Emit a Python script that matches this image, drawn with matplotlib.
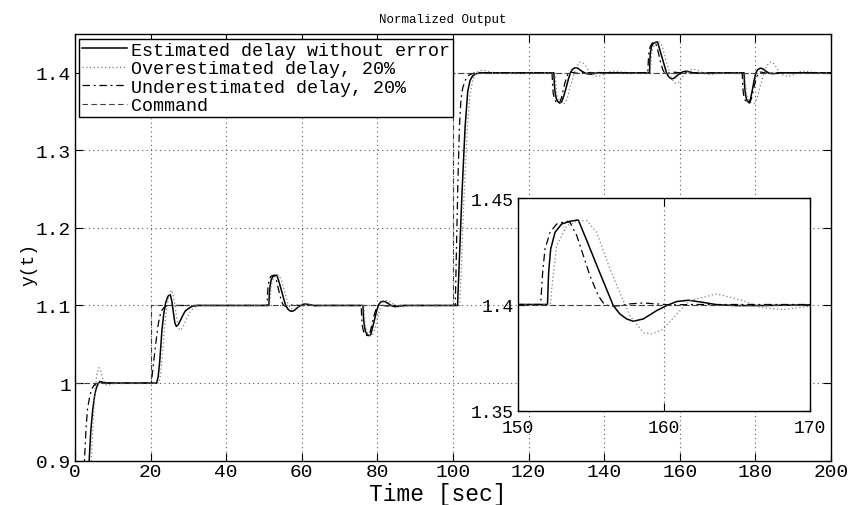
import matplotlib
matplotlib.use('Agg')
import matplotlib.pyplot as plt

plt.rcParams['font.family'] = ['Liberation Mono', 'DejaVu Sans Mono']

# ---------------- data ----------------
t_est = [0, 1.5, 2.5, 3.1, 3.5, 3.8, 4.2, 4.7, 5.2, 5.6, 6.1, 6.6, 7.3, 8.5, 21.6,
         22.0, 22.4, 23.0, 23.5, 24.0, 24.6, 25.2, 25.6, 26.0, 26.4, 26.8, 27.3, 27.9, 28.6, 29.2, 30.0, 31.0, 32.5, 51.3,
         51.4, 51.6, 51.9, 52.3, 52.9, 53.4, 54.0, 54.7, 55.3, 55.8, 56.3, 56.8, 57.3, 58.0, 58.8, 59.5, 60.2, 61.0, 62.0, 63.3, 65.0, 76.2,
         76.3, 76.5, 76.8, 77.2, 77.8, 78.2, 78.7, 79.3, 79.9, 80.4, 80.9, 81.5, 82.2, 83.0, 83.8, 84.6, 85.6, 87.0, 101.2,
         101.6, 102.4, 103.2, 103.9, 104.5, 105.2, 106.2, 107.5, 126.7,
         126.8, 127.0, 127.3, 127.7, 128.2, 128.7, 129.3, 130.0, 130.6, 131.1, 131.6, 132.3, 133.0, 133.8, 134.6, 135.4, 136.3, 137.3, 138.6, 140.0, 152.0,
         152.08, 152.22, 152.52, 152.97, 153.54, 154.11, 154.69, 155.37, 156.06, 156.51, 156.97, 157.43, 157.88, 158.57, 159.48, 160.17,
         160.86, 161.66, 162.69, 163.60, 164.97, 166.57, 168.5, 170.0, 177.0,
         177.1, 177.3, 177.6, 177.9, 178.3, 178.7, 179.2, 179.7, 180.1, 180.6, 181.3, 182.0, 182.8, 183.6, 184.5, 185.5, 187.0, 200.0]
y_est = [0.0, 0.30, 0.62, 0.80, 0.87, 0.905, 0.940, 0.966, 0.984, 0.993, 0.999, 1.002, 1.001, 1.0, 1.0,
         1.008, 1.027, 1.068, 1.090, 1.104, 1.112, 1.114, 1.106, 1.092, 1.078, 1.073, 1.075, 1.081, 1.088, 1.093, 1.096, 1.099, 1.1, 1.1,
         1.114, 1.125, 1.133, 1.137, 1.139, 1.139, 1.130, 1.118, 1.107, 1.0995, 1.0955, 1.0932, 1.0925, 1.0935, 1.097, 1.0995, 1.1014, 1.102, 1.101, 1.0998, 1.1, 1.1,
         1.086, 1.075, 1.067, 1.063, 1.061, 1.062, 1.071, 1.083, 1.095, 1.1015, 1.1045, 1.1055, 1.1045, 1.102, 1.0995, 1.0985, 1.0988, 1.1, 1.1,
         1.15, 1.247, 1.33, 1.376, 1.390, 1.396, 1.399, 1.4, 1.4,
         1.386, 1.375, 1.367, 1.363, 1.361, 1.362, 1.370, 1.382, 1.393, 1.4005, 1.4045, 1.4065, 1.406, 1.403, 1.4005, 1.3988, 1.3982, 1.399, 1.4002, 1.4, 1.4,
         1.4151, 1.4261, 1.4340, 1.4379, 1.4392, 1.4398, 1.4302, 1.4186, 1.4071, 1.3995, 1.3955, 1.3932, 1.3921, 1.3932, 1.3971, 1.3995,
         1.4014, 1.4020, 1.4010, 1.3999, 1.3995, 1.3995, 1.3997, 1.3998, 1.4,
         1.386, 1.375, 1.367, 1.363, 1.362, 1.366, 1.378, 1.391, 1.3995, 1.404, 1.406, 1.405, 1.402, 1.3995, 1.3988, 1.3992, 1.4, 1.4]

t_over = [0, 2.5, 3.5, 4.1, 4.4, 4.8, 5.3, 5.8, 6.3, 6.8, 7.4, 8.0, 8.8, 9.8, 11.0, 22.2,
          22.6, 23.1, 23.7, 24.2, 24.8, 25.5, 26.0, 26.5, 27.0, 27.5, 28.0, 28.7, 29.5, 30.4, 31.4, 32.5, 34.0, 36.0, 51.5,
          51.6, 51.9, 52.5, 53.2, 53.9, 54.6, 55.5, 56.3, 56.9, 57.6, 58.4, 59.3, 60.3, 61.5, 63.0, 65.0, 67.0, 76.4,
          76.5, 76.8, 77.4, 78.1, 78.7, 79.3, 80.0, 80.7, 81.3, 82.0, 82.8, 83.7, 84.6, 85.6, 87.0, 89.0, 101.8,
          102.2, 103.0, 103.8, 104.5, 105.2, 106.0, 107.0, 108.3, 109.8, 111.5, 113.0, 127.0,
          127.09, 127.43, 128.12, 128.8, 129.49, 130.17, 131.09, 132.0, 132.46, 133.37, 133.94, 134.74, 135.66, 136.57, 138.4, 140.23, 141.37, 142.97, 144.8, 146.5, 152.2,
          152.29, 152.63, 153.32, 154.0, 154.69, 155.37, 156.29, 157.2, 157.66, 158.57, 159.14, 159.94, 160.86, 161.77, 163.6, 165.43, 166.57, 168.17, 170.0, 171.5, 177.2,
          177.29, 177.63, 178.32, 179.0, 179.69, 180.37, 181.29, 182.2, 182.66, 183.57, 184.14, 184.94, 185.86, 186.77, 188.6, 190.43, 191.57, 193.17, 195.0, 197.0, 200.0]
y_over = [0.0, 0.55, 0.80, 0.88, 0.91, 0.95, 0.99, 1.012, 1.020, 1.016, 1.005, 0.998, 0.997, 0.999, 1.0, 1.0,
          1.01, 1.035, 1.072, 1.095, 1.112, 1.12, 1.114, 1.098, 1.081, 1.070, 1.068, 1.074, 1.083, 1.091, 1.097, 1.1005, 1.101, 1.1, 1.1,
          1.108, 1.126, 1.136, 1.139, 1.139, 1.133, 1.117, 1.103, 1.097, 1.095, 1.0965, 1.0995, 1.1015, 1.102, 1.1005, 1.0995, 1.1, 1.1,
          1.092, 1.074, 1.064, 1.061, 1.062, 1.069, 1.083, 1.096, 1.1035, 1.1065, 1.106, 1.1035, 1.1005, 1.0985, 1.0985, 1.1, 1.1,
          1.15, 1.25, 1.33, 1.372, 1.39, 1.399, 1.403, 1.403, 1.401, 1.3995, 1.4, 1.4,
          1.3927, 1.3723, 1.3629, 1.3608, 1.3605, 1.366, 1.3833, 1.3982, 1.4053, 1.4132, 1.4139, 1.4116, 1.4045, 1.3982, 1.395, 1.3982, 1.4013, 1.4024, 1.4008, 1.4, 1.4,
          1.4073, 1.4277, 1.4371, 1.4392, 1.4395, 1.4340, 1.4167, 1.4018, 1.3947, 1.3868, 1.3861, 1.3884, 1.3955, 1.4018, 1.4050, 1.4018, 1.3987, 1.3976, 1.3992, 1.4, 1.4,
          1.3927, 1.3723, 1.3629, 1.3608, 1.3605, 1.366, 1.3833, 1.3982, 1.4053, 1.4132, 1.4139, 1.4116, 1.4045, 1.3982, 1.395, 1.3982, 1.4013, 1.4024, 1.4008, 1.4, 1.4]

t_under = [0, 1.0, 1.8, 2.2, 2.5, 2.9, 3.3, 3.9, 4.5, 5.2, 6.0, 20.2,
           20.6, 21.2, 21.7, 22.1, 22.6, 23.0, 23.5, 24.0, 24.8, 50.8,
           50.94, 51.1, 51.44, 51.9, 52.58, 52.81, 53.27, 53.73, 54.18, 54.75, 55.1, 55.56, 56.24, 56.93, 57.84, 58.75, 59.67, 61.0, 75.7,
           75.84, 76.0, 76.34, 76.8, 77.48, 77.71, 78.17, 78.63, 79.08, 79.65, 80.0, 80.46, 81.14, 81.83, 82.74, 83.65, 84.57, 86.0, 100.6,
           100.9, 101.3, 101.7, 102.1, 102.6, 103.3, 104.2, 105.5, 106.7, 126.2,
           126.34, 126.5, 126.84, 127.3, 127.98, 128.21, 128.67, 129.13, 129.58, 130.15, 130.5, 130.96, 131.64, 132.33, 133.24, 134.15, 135.07, 136.5, 151.53,
           151.67, 151.83, 152.17, 152.63, 153.31, 153.54, 154.0, 154.46, 154.91, 155.48, 155.83, 156.29, 156.97, 157.66, 158.57, 159.48, 160.4, 162.0, 176.5,
           176.64, 176.8, 177.14, 177.6, 178.28, 178.51, 178.97, 179.43, 179.88, 180.45, 180.8, 181.26, 181.94, 182.63, 183.54, 184.45, 185.37, 187.0, 200.0]
y_under = [0.0, 0.45, 0.78, 0.86, 0.90, 0.94, 0.966, 0.983, 0.993, 0.998, 1.0, 1.0,
           1.018, 1.044, 1.064, 1.078, 1.089, 1.094, 1.097, 1.099, 1.1, 1.1,
           1.115, 1.126, 1.134, 1.138, 1.139, 1.1387, 1.1326, 1.123, 1.1136, 1.1042, 1.1007, 1.0991, 1.0995, 1.1003, 1.1007, 1.1003, 1.0998, 1.1, 1.1,
           1.085, 1.074, 1.066, 1.062, 1.061, 1.0613, 1.0674, 1.077, 1.0864, 1.0958, 1.0993, 1.1009, 1.1005, 1.0997, 1.0993, 1.0997, 1.1002, 1.1, 1.1,
           1.17, 1.26, 1.33, 1.366, 1.381, 1.391, 1.397, 1.3995, 1.4, 1.4,
           1.385, 1.374, 1.366, 1.362, 1.3608, 1.3613, 1.3674, 1.377, 1.3864, 1.3958, 1.3993, 1.4009, 1.4005, 1.3997, 1.3993, 1.3997, 1.4002, 1.4, 1.4,
           1.4151, 1.4261, 1.4339, 1.4379, 1.4392, 1.4387, 1.4326, 1.4230, 1.4136, 1.4042, 1.4007, 1.3991, 1.3995, 1.4003, 1.4007, 1.4003, 1.3998, 1.4, 1.4,
           1.385, 1.374, 1.366, 1.362, 1.3608, 1.3613, 1.3674, 1.377, 1.3864, 1.3958, 1.3993, 1.4009, 1.4005, 1.3997, 1.3993, 1.3997, 1.4002, 1.4, 1.4]

t_cmd = [0, 20, 20, 100, 100, 200]
y_cmd = [1.0, 1.0, 1.1, 1.1, 1.4, 1.4]

labels = ['Estimated delay without error', 'Overestimated delay, 20%',
          'Underestimated delay, 20%', 'Command']
main_xticks = [0, 20, 40, 60, 80, 100, 120, 140, 160, 180, 200]
main_yticks = [0.9, 1.0, 1.1, 1.2, 1.3, 1.4]
main_yticklabels = ['0.9', '1', '1.1', '1.2', '1.3', '1.4']
inset_xticks = [150, 160, 170]
inset_yticks = [1.35, 1.4, 1.45]
inset_yticklabels = ['1.35', '1.4', '1.45']

# ---------------- styles ----------------
st_est = dict(color='k', lw=1.1, ls='-')
st_over = dict(color='0.5', lw=0.9, ls=(0, (1, 2)))
st_under = dict(color='k', lw=0.9, ls=(0, (6, 3, 1.5, 3)))
st_cmd = dict(color='0.25', lw=0.8, ls=(0, (5, 3)))

fig = plt.figure(figsize=(8.51, 5.06), dpi=100)
ax = fig.add_axes([75/851, 1-461.6/506, 756/851, (461.6-35)/506])


def draw(a):
    a.plot(t_est, y_est, label=labels[0], **st_est)
    a.plot(t_over, y_over, label=labels[1], **st_over)
    a.plot(t_under, y_under, label=labels[2], **st_under)
    a.plot(t_cmd, y_cmd, label=labels[3], **st_cmd)


def style(a, size, pad=3):
    a.grid(True, linestyle=(0, (1, 3)), color='0.35', linewidth=0.8)
    a.tick_params(direction='in', top=True, right=True, length=6, width=0.8,
                  labelsize=size, pad=pad)
    for s in a.spines.values():
        s.set_linewidth(1.0)
        s.set_color('k')


draw(ax)
ax.set_xlim(0, 200)
ax.set_ylim(0.9, 1.45)
ax.set_xticks(main_xticks)
ax.set_yticks(main_yticks)
ax.set_yticklabels(main_yticklabels)
style(ax, 14)
ax.tick_params(axis='x', pad=2)
ax.set_title('Normalized Output', fontsize=9, x=0.487, pad=9)
ax.set_xlabel('Time [sec]', fontsize=16.5)
ax.xaxis.set_label_coords(0.48, -0.05)
ax.set_ylabel('y(t)', fontsize=13)
ax.yaxis.set_label_coords(-0.05, 0.463)

leg = ax.legend(loc='upper left', bbox_to_anchor=(0.0053, 0.9883), fontsize=13.2,
                frameon=True, fancybox=False, edgecolor='k', framealpha=1,
                borderpad=0.15, labelspacing=0.08, handlelength=2.45,
                handletextpad=0.25, borderaxespad=0.0)
leg.get_frame().set_linewidth(1.0)

ins = fig.add_axes([518.3/851, (506-411.7)/506, 291.7/851, 212.4/506])
ins.set_facecolor('white')
draw(ins)
ins.set_xlim(150, 170)
ins.set_ylim(1.35, 1.45)
ins.set_xticks(inset_xticks)
ins.set_yticks(inset_yticks)
ins.set_yticklabels(inset_yticklabels)
style(ins, 13)
ins.tick_params(axis='x', pad=6)

fig.savefig('out.png', dpi=100)
